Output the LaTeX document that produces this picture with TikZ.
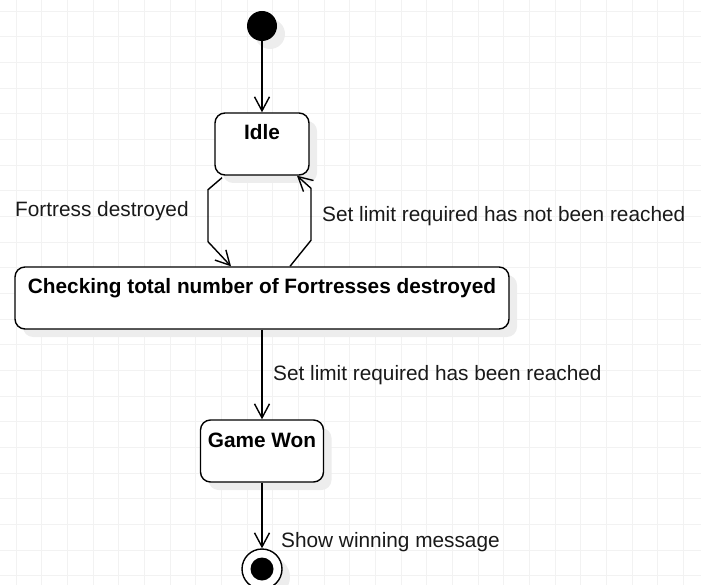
\documentclass[tikz,border=0pt]{standalone}
\usepackage{fontspec}
\setmainfont{Liberation Sans}
\usetikzlibrary{arrows.meta,shadows}
\tikzset{every picture/.style={/utils/exec={\fontsize{20.8}{24}\selectfont}}}
\tikzset{
    gridline/.style={draw=black!5, line width=0.8pt},
    shade box/.style={drop shadow={shadow xshift=8pt, shadow yshift=-8pt, fill=black!7, opacity=1}},
    statebox/.style={draw, line width=1.4pt, rounded corners=10pt, fill=white, font=\bfseries,
        inner xsep=4pt, inner ysep=7pt, text height=20pt, text depth=28pt, minimum height=62pt, shade box},
    flow/.style={line width=1.4pt, -{Straight Barb[length=14pt, width=15pt]}},
    note/.style={anchor=base west, inner sep=0pt, text=black!90}
}

\begin{document}
\begin{tikzpicture}[x=1pt, y=-1pt]
    \useasboundingbox (0, 0) rectangle (701, 585);
    \foreach \i in {0, ..., 26}{
        \draw [gridline] ({16 + 25.67*\i}, 0) -- ++(0, 585);
    }
    \foreach \i in {0, ..., 22}{
        \draw [gridline] (0, {11 + 25.67*\i}) -- ++(701, 0);
    }
    \node (start) [circle, fill, minimum size=30pt, inner sep=0pt, shade box] at (262, 26) {};
    \node (idle) [statebox, minimum width=94pt] at (262, 144) {Idle};
    \node (check) [statebox, minimum width=494pt] at (262, 298) {Checking total number of Fortresses destroyed};
    \node (won) [statebox, minimum width=123pt] at (262, 451) {Game Won};
    \node (stop) [circle, draw, line width=1.4pt, fill=white, minimum size=40pt, inner sep=0pt, shade box] at (262, 569) {};
    \node (stopdot) [circle, fill, minimum size=23pt, inner sep=0pt] at (stop) {};
    \draw [flow] (start) -- (idle);
    \draw [flow] ([xshift=-40pt, yshift=-2pt]idle.south) -- ++(-14, 12) -- ++(0, 52) -- ([xshift=-31pt]check.north);
    \draw [flow] ([xshift=28pt]check.north) -- ++(21, -26) -- ++(0, -52) -- ([xshift=35pt]idle.south);
    \draw [flow] (check) -- (won);
    \draw [flow] (won) -- (stop);
    \node (lbldestroyed) [note] at (15, 217) {Fortress destroyed};
    \node (lblnotreached) [note] at (322, 222) {Set limit required has not been reached};
    \node (lblreached) [note] at (273, 380) {Set limit required has been reached};
    \node (lblwin) [note] at (281, 547) {Show winning message};
\end{tikzpicture}
\end{document}
